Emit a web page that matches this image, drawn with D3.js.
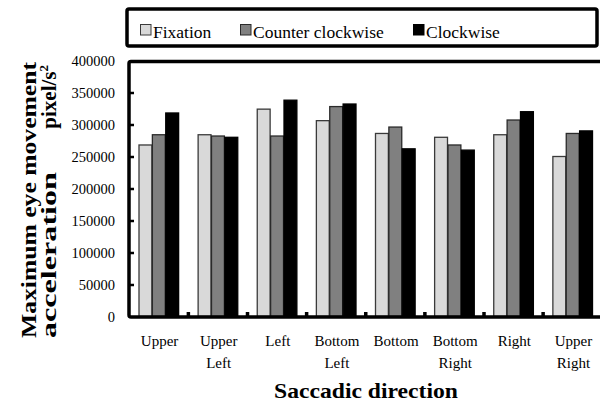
<!DOCTYPE html>
<html>
<head>
<meta charset="utf-8">
<script src="https://cdn.jsdelivr.net/npm/d3@7"></script>
<style>
  body { margin: 0; background: #fff; }
</style>
</head>
<body>
<div id="chart"></div>
<script>
const categories = [["Upper"], ["Upper", "Left"], ["Left"], ["Bottom", "Left"], ["Bottom"], ["Bottom", "Right"], ["Right"], ["Upper", "Right"]];
const seriesNames = ["Fixation", "Counter clockwise", "Clockwise"];
const fixation = [268000, 284000, 324000, 306000, 286000, 280000, 284000, 250000];
const counterClockwise = [284000, 282000, 282000, 328000, 296000, 268000, 307000, 286000];
const clockwise = [318000, 280000, 338000, 332000, 262000, 260000, 320000, 290000];
const yTicks = [0, 50000, 100000, 150000, 200000, 250000, 300000, 350000, 400000];

const width = 600;
const height = 412;
const font = "Liberation Serif";
const colors = ["#d9d9d9", "#808080", "#000000"];
const strokes = ["#3a3a3a", "#2a2a2a", "#000000"];

const catKeys = categories.map(d => d.join(" "));
const values = [fixation, counterClockwise, clockwise];

const svg = d3.select("#chart")
  .append("svg")
  .attr("width", width)
  .attr("height", height)
  .attr("font-family", font)
  .style("display", "block");

const plotLeft = 129;
const plotRight = 602;
const plotTop = 61.5;
const plotBottom = 317;

const xScale = d3.scaleBand()
  .domain(catKeys)
  .range([plotLeft, plotRight])
  .padding(0);

const xInner = d3.scaleBand()
  .domain(seriesNames)
  .range([0, xScale.bandwidth()])
  .paddingInner(0)
  .paddingOuter(0.71);

const yScale = d3.scaleLinear()
  .domain([0, 400000])
  .range([316.5, 60.5]);

// bars
const groups = svg.append("g")
  .selectAll("g")
  .data(catKeys)
  .join("g")
  .attr("transform", d => `translate(${xScale(d)},0)`);

groups.selectAll("rect")
  .data((d, i) => seriesNames.map((s, j) => ({ s, j, v: values[j][i] })))
  .join("rect")
  .attr("x", d => xInner(d.s) + 0.5)
  .attr("width", xInner.bandwidth() - 0.5)
  .attr("y", d => yScale(d.v))
  .attr("height", d => yScale(0) - yScale(d.v))
  .attr("fill", d => colors[d.j])
  .attr("stroke", d => strokes[d.j])
  .attr("stroke-width", 1.3);

// plot frame
svg.append("rect")
  .attr("x", plotLeft)
  .attr("y", plotTop)
  .attr("width", plotRight - plotLeft + 4)
  .attr("height", plotBottom - plotTop)
  .attr("rx", 2)
  .attr("fill", "none")
  .attr("stroke", "#000")
  .attr("stroke-width", 3.5);

// inward y ticks
const yTickAxis = svg.append("g")
  .attr("transform", `translate(${plotLeft},0)`)
  .call(d3.axisRight(yScale).tickValues(yTicks.slice(1, -1)).tickSize(5).tickFormat(""));
yTickAxis.select(".domain").remove();
yTickAxis.selectAll("line").attr("stroke", "#000").attr("stroke-width", 2.5);

// y labels
const yLabelAxis = svg.append("g")
  .attr("transform", `translate(${plotLeft},0)`)
  .call(d3.axisLeft(yScale).tickValues(yTicks).tickSize(0).tickPadding(14).tickFormat(d3.format("d")));
yLabelAxis.select(".domain").remove();
yLabelAxis.attr("font-family", font);
yLabelAxis.selectAll("text")
  .style("font-family", font)
  .attr("font-size", 14.5)
  .attr("fill", "#000");

// x ticks between categories, pointing up
const xTickPositions = catKeys.slice(1).map(k => xScale(k));
svg.append("g")
  .selectAll("rect")
  .data(xTickPositions.concat([plotRight]))
  .join("rect")
  .attr("x", d => d - 1.5)
  .attr("y", plotBottom - 5)
  .attr("width", 3.5)
  .attr("height", 5)
  .attr("fill", "#000");

// x labels
const xLabels = svg.append("g")
  .selectAll("text")
  .data(categories)
  .join("text")
  .attr("text-anchor", "middle")
  .style("font-family", font)
  .attr("font-size", 15)
  .attr("fill", "#000")
  .attr("x", (d, i) => xScale(catKeys[i]) + xScale.bandwidth() / 2 + 1);

xLabels.selectAll("tspan")
  .data(d => d)
  .join("tspan")
  .attr("x", function () { return d3.select(this.parentNode).attr("x"); })
  .attr("y", (d, i) => 346 + i * 21.5)
  .text(d => d);

// x title
svg.append("text")
  .attr("x", 366)
  .attr("y", 398)
  .attr("text-anchor", "middle")
  .style("font-family", font)
  .attr("font-size", 21)
  .attr("font-weight", "bold")
  .attr("textLength", 184)
  .attr("lengthAdjust", "spacingAndGlyphs")
  .text("Saccadic direction");

// y title
svg.append("text")
  .attr("transform", "translate(36,338) rotate(-90)")
  .style("font-family", font)
  .attr("font-size", 21)
  .attr("font-weight", "bold")
  .attr("textLength", 276)
  .attr("lengthAdjust", "spacingAndGlyphs")
  .text("Maximum eye movement");

svg.append("text")
  .attr("transform", "translate(56,338) rotate(-90)")
  .style("font-family", font)
  .attr("font-size", 21)
  .attr("font-weight", "bold")
  .attr("textLength", 166)
  .attr("lengthAdjust", "spacingAndGlyphs")
  .text("acceleration");

const unit = svg.append("text")
  .attr("transform", "translate(56,65) rotate(-90)")
  .attr("text-anchor", "end")
  .style("font-family", font)
  .attr("font-size", 21)
  .attr("font-weight", "bold");
unit.append("tspan").text("pixel/s");
unit.append("tspan").attr("font-size", 13).attr("dy", -8).text("2");

// legend
svg.append("rect")
  .attr("x", 127)
  .attr("y", 9)
  .attr("width", 470)
  .attr("height", 37)
  .attr("rx", 2)
  .attr("fill", "#fff")
  .attr("stroke", "#000")
  .attr("stroke-width", 3.5);

const legendX = [140, 240, 413];
const legendItems = svg.append("g")
  .selectAll("g")
  .data(seriesNames)
  .join("g")
  .attr("transform", (d, i) => `translate(${legendX[i]},0)`);

legendItems.append("rect")
  .attr("x", 0.5)
  .attr("y", 24.5)
  .attr("width", 10.5)
  .attr("height", 10.5)
  .attr("fill", (d, i) => colors[i])
  .attr("stroke", (d, i) => strokes[i])
  .attr("stroke-width", 1);

legendItems.append("text")
  .attr("x", 13)
  .attr("y", 37.5)
  .style("font-family", font)
  .attr("font-size", 17.5)
  .attr("fill", "#000")
  .text(d => d);
</script>
</body>
</html>
